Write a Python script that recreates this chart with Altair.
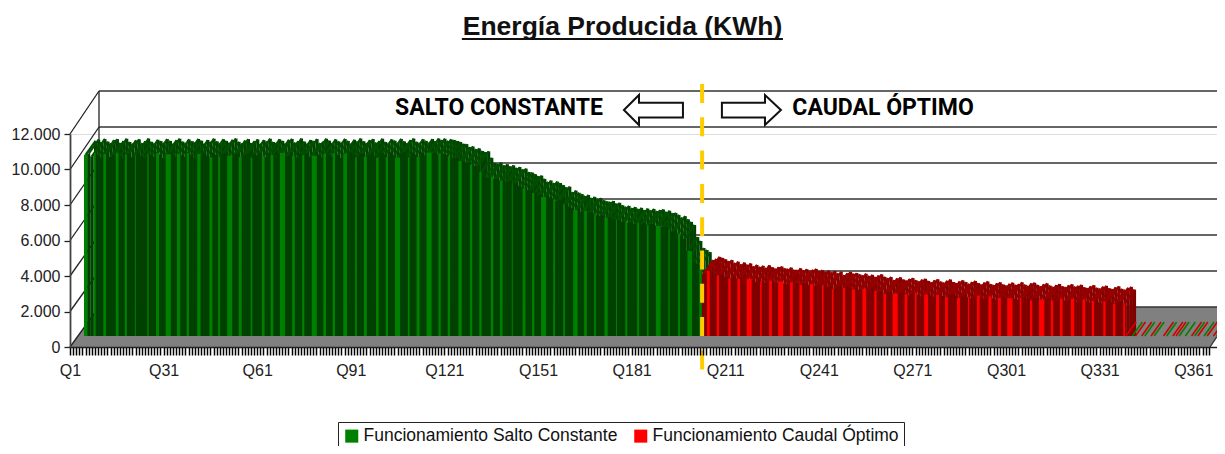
import altair as alt
import pandas as pd

# KWh per quarter-interval
green_values = [
10060,10130,9980,10170,10020,9920,10110,10160,9950,10050,10180,10000,9900,10090,10150,9930,10040,10190,10010,9910,
10120,10050,9940,10160,10060,9890,10100,10180,10020,9930,10140,10040,9960,10170,10070,9900,10110,10000,10180,10030,
9920,10150,10060,9950,10120,10190,10010,9910,10080,10160,9940,10050,10140,9890,10100,10020,10180,10000,9930,10150,
10060,9910,10120,10170,9960,10040,10190,10020,9900,10110,10050,10160,9940,10010,10180,10070,9920,10140,10030,9950,
10170,10060,9890,10120,10020,10190,10040,9930,10100,10160,9960,10050,10180,10000,9910,10140,10070,9940,10170,10030,
9920,10110,10190,10010,9930,10150,10060,9950,10160,10040,10190,10110,10180,10060,10140,
10110,10050,10000,9900,9880,9720,9750,9600,9640,9500,9440,9480,9120,8830,8780,8850,8700,8760,8640,8700,
8560,8610,8480,8520,8330,8300,8210,8100,8130,7950,7780,7860,7720,7800,7720,7600,7480,7520,7220,7300,
7180,7100,7000,7060,6890,6950,6820,6880,6760,6700,6670,6720,6580,6620,6480,6400,6450,6330,6380,6280,
6340,6220,6300,6200,6280,6160,6220,6250,6120,6180,6050,6060,5950,5800,5880,5700,5560,5390,4720,4500,
4110,4000,3880]
red_values = [
3440,3500,3620,3560,3480,3380,3440,3280,3350,3200,3300,3180,3250,3090,3170,3060,3120,3000,3150,3040,
2960,3050,3080,2980,2950,3020,2900,2890,2980,2870,2930,2840,2900,2950,2830,2880,2790,2850,2760,2830,
2700,2790,2610,2700,2780,2680,2720,2640,2590,2680,2560,2620,2500,2580,2640,2510,2440,2500,2330,2420,
2480,2360,2300,2390,2440,2320,2260,2350,2400,2280,2200,2310,2370,2240,2180,2290,2360,2220,2160,2250,
2310,2220,2120,2220,2280,2160,2080,2190,2250,2100,2050,2150,2200,2080,2020,2120,2180,2060,2100,2200,
2070,2000,2140,2180,2060,1980,2090,2140,2020,1950,2050,2110,1980,1930,2030,2090,1960,2010,2060,1920,
1880,1980,2040,1900,1850,1960,2010,1870,1820,1920,1980,1840,1790,1900,1950,1800]

# front faces that stay visible: (first quarter, width in quarters)
green_fronts = [
(1.0,1.06),(4.2,.55),(7.2,.87),(11.2,.87),(14.1,.64),(17.3,.32),(21.3,.42),(24.1,.96),(27.2,1.6),(30.8,1.06),
(33.9,.74),(37.3,1.06),(41.2,.96),(44.0,.64),(46.9,1.6),(50.6,.96),(54.4,.55),(58.0,.87),(60.8,.87),(63.8,1.6),
(67.7,.87),(70.9,.74),(74.0,1.6),(77.7,.87),(80.7,.74),(84.1,1.2),(87.9,.55),(90.7,.96),(94.6,.87),(97.7,.74),
(100.7,1.6),(104.8,.55),(107.6,.96),(110.8,1.6),(114.6,.74),(117.6,.74),(121.0,1.06),(124.7,.74),(127.7,.74),(131.4,.74),
(134.3,.87),(138.1,.32),(141.6,.87),(144.6,.74),(147.5,1.6),(151.4,.55),(154.6,.55),(157.8,1.4),(161.3,.87),(164.5,.55),
(167.8,1.06),(171.5,.32),(174.5,.64),(178.3,.64),(181.4,.55),(184.3,1.5),(188.3,.42),(191.4,.64),(194.4,1.5),(198.2,.8)]
red_fronts = [
(200.7,.87),(203.8,.74),(207.5,.74),(210.4,.87),(213.4,1.6),(217.7,.5),(220.6,.87),(223.5,1.6),(227.3,.87),(230.3,.87),
(233.7,1.06),(237.5,.55),(240.7,.55),(244.2,.74),(247.1,1.06),(250.5,1.2),(254.3,.74),(257.2,.87),(260.2,1.6),(264.0,.87),
(267.3,.55),(270.3,1.2),(274.1,.96),(277.0,.87),(280.8,.96),(284.3,.42),(287.2,.87),(290.9,.96),(293.9,.96),(296.9,1.7),
(300.9,.55),(304.2,.74),(307.1,1.7),(310.9,.74),(313.8,.87),(317.3,1.06),(321.0,.87),(324.0,.74),(327.7,.74),(330.8,.74),(334.1,.55)]

# empty quarters at the end: which series shows on the floor
empty_series = list("R.GR.RG.RG..RG.RRG.G.RGR.GR.RGR")

tick_values = [0, 2000, 4000, 6000, 8000, 10000, 12000]
series_names = ["Funcionamiento Salto Constante", "Funcionamiento Caudal Óptimo"]
series_fill = ["#008000", "#ff0000"]
front_dark = {series_names[0]: "#004000", series_names[1]: "#800000"}
top_dark = {series_names[0]: "#005000", series_names[1]: "#960000"}

PX_Q = 3.12
PX_V = 0.01775
W = 1147
Q_MAX = 1 + W / PX_Q
WALL_Q, WALL_V, WALL_K = 29 / PX_Q, 40 / PX_V, 36 / 35.5
BAR_Q, BAR_V, BAR_K = 14 / PX_Q, 11 / PX_V, 18 / 17.75
TOP_Q, TOP_V = 10 / PX_Q, 14 / PX_V

xs = alt.Scale(domain=[1, Q_MAX], nice=False, zero=False)
ys = alt.Scale(domain=[0, 12000], nice=False, zero=False)
q_ticks = list(range(1, 367))
x_axis = alt.Axis(
    values=q_ticks, grid=False, title=None, labelExpr="datum.value % 30 == 1 ? 'Q' + datum.value : ''",
    labelOverlap=False, labelFont="Liberation Sans", labelFontSize=16, labelColor="#222222",
    tickSize=8, tickColor="#000000", tickWidth=1.5, domainColor="#222222", domainWidth=1.5,
    labelPadding=7, labelOffset=0, zindex=1, labelFlush=False)
y_axis = alt.Axis(
    values=tick_values, grid=False, title=None, labelExpr="replace(format(datum.value, ','), ',', '.')",
    labelFont="Liberation Sans", labelFontSize=16, labelColor="#222222",
    tickSize=6, tickColor="#222222", tickWidth=1.3, domainColor="#444444", domainWidth=1.8,
    labelPadding=4, zindex=1)
def X(f="x"): return alt.X(f"{f}:Q", scale=xs, axis=x_axis, title=None)
def Y(f="y"): return alt.Y(f"{f}:Q", scale=ys, axis=y_axis, title=None)
X2 = alt.X2("x2:Q")
Y2 = alt.Y2("y2:Q")

# bars
vals = green_values + red_values
rows = []
for i, v in enumerate(vals):
    q = i + 1
    s = series_names[0] if i < len(green_values) else series_names[1]
    rows.append(dict(q=q, v=v, serie=s, dark=front_dark[s], top=top_dark[s],
                     fx=q + BAR_Q, fx2=q + BAR_Q + 1, fy=BAR_V, fy2=v * BAR_K + BAR_V,
                     bx=q + BAR_Q + TOP_Q, bx2=q + BAR_Q + TOP_Q + 1,
                     by2=v * BAR_K + BAR_V + TOP_V,
                     tx=q + BAR_Q + .5, tx2=q + BAR_Q + .5 + TOP_Q))
bars = pd.DataFrame(rows)

back = alt.Chart(bars).mark_rect(strokeWidth=0).encode(
    x=X("bx"), x2="bx2:Q", y=Y("fy"), y2="by2:Q", fill=alt.Fill("dark:N", scale=None))
top = alt.Chart(bars).mark_rule(strokeWidth=2.2).encode(
    x=X("tx"), x2="tx2:Q", y=Y("fy2"), y2="by2:Q", stroke=alt.Stroke("top:N", scale=None))
front = alt.Chart(bars).mark_rect(strokeWidth=0).encode(
    x=X("fx"), x2="fx2:Q", y=Y("fy"), y2="fy2:Q", fill=alt.Fill("dark:N", scale=None))

# visible front faces (these carry the legend)
st = []
for name, lst in zip(series_names, (green_fronts, red_fronts)):
    for q0, w in lst:
        v = vals[min(int(round(q0)), len(vals)) - 1]
        st.append(dict(serie=name, x=q0 + BAR_Q, x2=q0 + w + BAR_Q, y=BAR_V, y2=v * BAR_K + BAR_V))
legend = alt.Legend(title=None, orient="none", legendX=268, legendY=288, direction="horizontal",
                    columns=2, fillColor="white", strokeColor="#222222", padding=5,
                    labelFont="Liberation Sans", labelFontSize=17.5, labelColor="#111111", labelLimit=400,
                    symbolType="square", symbolSize=170, symbolStrokeWidth=0, columnPadding=14, labelOffset=3)
stripes = alt.Chart(pd.DataFrame(st)).mark_rect(strokeWidth=0).encode(
    x=X(), x2=X2, y=Y(), y2=Y2,
    fill=alt.Fill("serie:N", scale=alt.Scale(domain=series_names, range=series_fill),
                  sort=series_names, legend=legend))

# empty quarters on the floor
em = pd.DataFrame([dict(x=len(vals) + 1 + i + BAR_Q, x2=len(vals) + 1 + i + BAR_Q + TOP_Q, y=BAR_V, y2=BAR_V + TOP_V,
                        c="#008000" if s == "G" else "#d00000") for i, s in enumerate(empty_series) if s != "."])
empties = alt.Chart(em).mark_rule(strokeWidth=1.6).encode(
    x=X(), x2=X2, y=Y(), y2=Y2, stroke=alt.Stroke("c:N", scale=None))

# chart box: floor and walls
floor_df = pd.DataFrame(dict(x=[1, 1 + WALL_Q, 366.4, Q_MAX], y=[0, WALL_V, WALL_V, WALL_V],
                             y2=[0, 0, 0, 10.3 / PX_V]))
floor = alt.Chart(floor_df).mark_area(color="#808080").encode(x=X(), y=Y(), y2=Y2)
grid_df = pd.DataFrame(dict(x=[1 + WALL_Q] * 7, x2=[Q_MAX] * 7, y=[t * WALL_K + WALL_V for t in tick_values]))
grid = alt.Chart(grid_df).mark_rule(color="#333333", strokeWidth=1.5).encode(x=X(), x2=X2, y=Y())
wall_df = pd.DataFrame(dict(x=[1] * 7, x2=[1 + WALL_Q] * 7, y=tick_values,
                            y2=[t * WALL_K + WALL_V for t in tick_values]))
walls = alt.Chart(wall_df).mark_rule(color="#222222", strokeWidth=1.3).encode(x=X(), x2=X2, y=Y(), y2=Y2)
corner = alt.Chart(pd.DataFrame(dict(x=[1 + WALL_Q], y=[WALL_V], y2=[12000 * WALL_K + WALL_V]))).mark_rule(
    color="#222222", strokeWidth=1.3).encode(x=X(), y=Y(), y2=Y2)
edge = alt.Chart(pd.DataFrame(dict(x=[366.4], x2=[Q_MAX], y=[0], y2=[10.3 / PX_V]))).mark_rule(
    color="#333333", strokeWidth=1.3).encode(x=X(), x2=X2, y=Y(), y2=Y2)

# annotations
notes = pd.DataFrame(dict(x=[138.5, 261.6], y=[13470, 13470], t=["SALTO CONSTANTE", "CAUDAL ÓPTIMO"]))
texts = alt.Chart(notes).mark_text(font="Roboto", fontWeight="bold", fontSize=23, color="#000000",
                                   align="center", baseline="middle").encode(x=X(), y=Y(), text="t:N")
LEFT = "M-1 0L-0.49 -0.51L-0.49 -0.25L1 -0.25L1 0.25L-0.49 0.25L-0.49 0.51Z"
RIGHT = "M1 0L0.46 -0.51L0.46 -0.25L-1 -0.25L-1 0.25L0.46 0.25L0.46 0.51Z"
arrow_l = alt.Chart(pd.DataFrame(dict(x=[188.0], y=[13352]))).mark_point(
    shape=LEFT, size=3481, filled=True, fill="white", stroke="#111111", strokeWidth=2, opacity=1).encode(x=X(), y=Y())
arrow_r = alt.Chart(pd.DataFrame(dict(x=[219.4], y=[13352]))).mark_point(
    shape=RIGHT, size=3481, filled=True, fill="white", stroke="#111111", strokeWidth=2, opacity=1).encode(x=X(), y=Y())
dash = alt.Chart(pd.DataFrame(dict(x=[203.6], y=[14817], y2=[-1296]))).mark_rule(
    color="#ffcc00", strokeWidth=4, strokeDash=[19, 14.3]).encode(x=X(), y=Y(), y2=Y2)
underline = alt.Chart(pd.DataFrame(dict(x=[126.6], x2=[229.5], y=[17352]))).mark_rule(
    color="#111111", strokeWidth=2.2).encode(x=X(), x2=X2, y=Y())

chart = alt.layer(floor, grid, walls, corner, edge, back, top, front, stripes, empties,
                  texts, arrow_l, arrow_r, dash, underline).properties(
    width=W, height=213,
    padding={"left": 62, "top": 126, "right": 0, "bottom": 99},
    autosize=alt.AutoSizeParams(type="none"),
    title=alt.TitleParams("Energía Producida (KWh)", font="Liberation Sans", fontWeight="bold", fontSize=26.5,
                          color="#111111", anchor="middle", dx=-21, offset=-3),
).configure_view(stroke=None).configure(background="white")

chart.save("out.html", embed_options={"renderer": "svg", "actions": False})
